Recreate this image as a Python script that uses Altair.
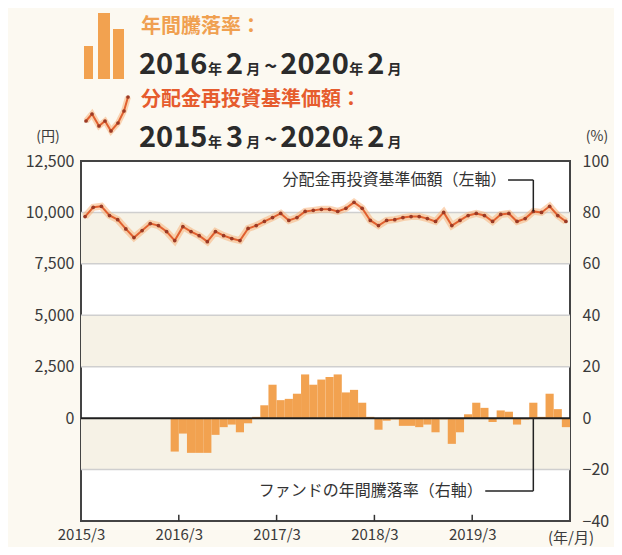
import json
import altair as alt
import pandas as pd

FONT = "Noto Sans CJK JP"

# ---- data ----
nav = [9800, 10250, 10300, 9850, 9650, 9200, 8780, 9120, 9460, 9360, 9070, 8630,
       9310, 9070, 8870, 8580, 9070, 8870, 8730, 8630, 9220, 9360, 9560, 9750,
       9950, 9610, 9750, 10050, 10100, 10150, 10150, 10050, 10200, 10490, 10200, 9610,
       9360, 9610, 9650, 9750, 9800, 9800, 9700, 9560, 10000, 9360, 9610, 9850,
       9950, 9850, 9560, 9900, 9950, 9560, 9700, 10050, 10000, 10300, 9850, 9560]
ret_start_index = 11  # 2016/2
ret = [-13, -6, -13.5, -13.5, -13.5, -6.5, -3.5, -2.5, -5.5, -2, 0.5, 5,
       13, 7, 7.5, 9.5, 17, 13, 15, 16, 17, 10, 11, 6,
       0.5, -4.5, -1, -0.5, -3, -3, -3.5, -2.5, -5.5, -0.5, -10, -5.5,
       1.5, 6, 4, -1.5, 3, 2.5, -2.5, -0.5, 6, 0.5, 9.5, 3.5, -3.5]

x_tick_vals = [0, 12, 24, 36, 48]
x_tick_labels = ["2015/3", "2016/3", "2017/3", "2018/3", "2019/3"]
x_unit_label = "(年/月)"
inner_ticks = [12, 24, 36, 48]
left_ticks = [0, 2500, 5000, 7500, 10000, 12500]
right_ticks = [-40, -20, 0, 20, 40, 60, 80, 100]
band_lo = [7500, 2500, -2500]
band_hi = [10000, 5000, 0]
grid_vals = [-2500, 2500, 5000, 7500, 10000]

nav_label = "分配金再投資基準価額（左軸）"
ret_label = "ファンドの年間騰落率（右軸）"
legend1_title = "年間騰落率："
legend1_range = ["2016", "年", "2", "月", "~", "2020", "年", "2", "月"]
legend2_title = "分配金再投資基準価額："
legend2_range = ["2015", "年", "3", "月", "~", "2020", "年", "2", "月"]

W, H = 489, 360

# ---- tables ----
nav_df = pd.DataFrame({"pos": [i + 0.5 for i in range(len(nav))], "nav": nav})
ret_df = pd.DataFrame({
    "x0": [ret_start_index + i for i in range(len(ret))],
    "x1": [ret_start_index + i + 1 for i in range(len(ret))],
    "ret": ret,
})
band_df = pd.DataFrame({"lo": band_lo, "hi": band_hi, "a": 0, "b": 60})
grid_df = pd.DataFrame({"g": grid_vals, "a": 0, "b": 60})
tick_df = pd.DataFrame({"t": inner_ticks, "y0": -5000, "y1": -4700})

XS = alt.Scale(domain=[0, 60], nice=False, zero=False)
x_axis = alt.Axis(
    values=x_tick_vals,
    labelExpr=f"{json.dumps(x_tick_labels, ensure_ascii=False)}[indexof({json.dumps(x_tick_vals)}, datum.value)]",
    domain=False, ticks=False, grid=False, title=None,
    labelFont=FONT, labelFontSize=15, labelColor="#3a3a3a",
    labelPadding=6, labelFlush=False, labelOverlap=False,
)


def X(f):
    return alt.X(f, type="quantitative", scale=XS, axis=x_axis)


YLS = alt.Scale(domain=[-5000, 12500], nice=False, zero=False)
yl_axis = alt.Axis(orient="left", values=left_ticks, format=",.0f", domain=False, ticks=False,
                   grid=False, title=None, labelFont=FONT, labelFontSize=16,
                   labelColor="#3a3a3a", labelPadding=7)
YRS = alt.Scale(domain=[-40, 100], nice=False, zero=False)
yr_axis = alt.Axis(orient="right", values=right_ticks, format=".0f", domain=False, ticks=False,
                   grid=False, title=None, labelFont=FONT, labelFontSize=16,
                   labelColor="#3a3a3a", labelPadding=12)


def YL(f):
    return alt.Y(f, type="quantitative", scale=YLS, axis=yl_axis)


def YR(f):
    return alt.Y(f, type="quantitative", scale=YRS, axis=yr_axis)


bands = alt.Chart(band_df).mark_rect(color="#f6f2e6").encode(
    x=X("a"), x2="b", y=YL("lo"), y2="hi")
grid = alt.Chart(grid_df).mark_rule(color="#cfcfcf", strokeWidth=1.5).encode(
    x=X("a"), x2="b", y=YL("g"))
xticks = alt.Chart(tick_df).mark_rule(color="#333", strokeWidth=1.5).encode(
    x=X("t"), y=YL("y0"), y2="y1")
glow = alt.Chart(nav_df).mark_line(color="#f7b27a", strokeWidth=7, opacity=0.55).encode(
    x=X("pos"), y=YL("nav"))
line = alt.Chart(nav_df).mark_line(color="#e0602f", strokeWidth=2).encode(
    x=X("pos"), y=YL("nav"))
pts = alt.Chart(nav_df).mark_point(filled=True, color="#9c3a24", size=14, opacity=1).encode(
    x=X("pos"), y=YL("nav"))

# annotation for line (left axis)
nav_anchor = 55
lead_l = pd.DataFrame({"a": [52.4, nav_anchor + 0.5], "b": [nav_anchor + 0.5, nav_anchor + 0.5],
                       "y0": [11576, 11576], "y1": [11576, nav[nav_anchor]]})
lead_l_rule = alt.Chart(lead_l).mark_rule(color="#222", strokeWidth=1.5).encode(
    x=X("a"), x2="b", y=YL("y0"), y2="y1")
nav_text = alt.Chart(pd.DataFrame({"p": [52.2], "v": [11576], "t": [nav_label]})).mark_text(
    align="right", baseline="middle", font=FONT, fontSize=16, color="#333").encode(
    x=X("p"), y=YL("v"), text="t")

left = alt.layer(bands, grid, xticks, glow, line, pts, lead_l_rule, nav_text)

bars = alt.Chart(ret_df).mark_bar(color="#f2a250").encode(
    x=X("x0"), x2="x1", y=YR("ret"), y2=alt.datum(0))
zero = alt.Chart(pd.DataFrame({"a": [0], "b": [60], "z": [0]})).mark_rule(
    color="#1e1e1e", strokeWidth=2).encode(x=X("a"), x2="b", y=YR("z"))
ret_anchor = 55
lead_r = pd.DataFrame({"a": [49.6, ret_anchor + 0.5], "b": [ret_anchor + 0.5, ret_anchor + 0.5],
                       "y0": [-28.3, -28.3], "y1": [-28.3, 0]})
lead_r_rule = alt.Chart(lead_r).mark_rule(color="#222", strokeWidth=1.5).encode(
    x=X("a"), x2="b", y=YR("y0"), y2="y1")
ret_text = alt.Chart(pd.DataFrame({"p": [49.3], "v": [-28.3], "t": [ret_label]})).mark_text(
    align="right", baseline="middle", font=FONT, fontSize=16, color="#333").encode(
    x=X("p"), y=YR("v"), text="t")

right = alt.layer(bars, zero, lead_r_rule, ret_text)

main = alt.layer(left, right).resolve_scale(y="independent")


# ---- legend / header decorations (pixel space) ----
def piece_w(s, size):
    return sum(0.56 * size if c.isdigit() else (0.55 * size if c == "~" else size) for c in s)


def row_pieces(pieces, x0, y0):
    rows = []
    x = x0
    for s in pieces:
        size = 29 if (s.isdigit()) else (22 if s == "~" else 14)
        rows.append({"px": x, "py": y0, "t": s, "s": size})
        x += piece_w(s, size) + 4
    return rows


date_rows = row_pieces(legend1_range, 58, -87) + row_pieces(legend2_range, 58, -14)
date_df = pd.DataFrame(date_rows)
dates = alt.Chart(date_df).mark_text(
    align="left", baseline="alphabetic", font=FONT, fontWeight="bold", color="#2b2b2b").encode(
    x=alt.X("px:Q", scale=None, axis=None), y=alt.Y("py:Q", scale=None, axis=None),
    text="t:N", size=alt.Size("s:Q", scale=None, legend=None))

titles_df = pd.DataFrame({"px": [60, 60], "py": [-128, -55],
                          "t": [legend1_title, legend2_title],
                          "c": ["#f0a050", "#e65c2e"]})
titles = alt.Chart(titles_df).mark_text(
    align="left", baseline="alphabetic", font=FONT, fontWeight="bold", fontSize=20).encode(
    x=alt.X("px:Q", scale=None, axis=None), y=alt.Y("py:Q", scale=None, axis=None),
    text="t:N", color=alt.Color("c:N", scale=None, legend=None))

units_df = pd.DataFrame({"px": [-33, 516, 490], "py": [-20, -20, 382],
                         "t": ["(円)", "(%)", x_unit_label], "s": [14, 14, 15]})
units = alt.Chart(units_df).mark_text(
    align="center", baseline="alphabetic", font=FONT, color="#3a3a3a").encode(
    x=alt.X("px:Q", scale=None, axis=None), y=alt.Y("py:Q", scale=None, axis=None),
    text="t:N", size=alt.Size("s:Q", scale=None, legend=None))

icon_bars = pd.DataFrame({"x0": [3, 17, 32], "x1": [12, 29, 43],
                          "y0": [-115, -148, -132], "y1": [-82, -82, -82]})
ibars = alt.Chart(icon_bars).mark_rect(color="#f2a250").encode(
    x=alt.X("x0:Q", scale=None, axis=None), x2="x1:Q",
    y=alt.Y("y0:Q", scale=None, axis=None), y2="y1:Q")

icon_line = pd.DataFrame({"o": list(range(8)),
                          "px": [5, 11, 18, 24, 30, 37, 43, 47],
                          "py": [-40, -47, -35, -40, -30, -38, -50, -64]})
iglow = alt.Chart(icon_line).mark_line(color="#f7b27a", strokeWidth=6, opacity=0.55).encode(
    x=alt.X("px:Q", scale=None, axis=None), y=alt.Y("py:Q", scale=None, axis=None), order="o:Q")
iline = alt.Chart(icon_line).mark_line(color="#e0602f", strokeWidth=2).encode(
    x=alt.X("px:Q", scale=None, axis=None), y=alt.Y("py:Q", scale=None, axis=None), order="o:Q")
ipts = alt.Chart(icon_line).mark_point(filled=True, color="#9c3a24", size=14, opacity=1).encode(
    x=alt.X("px:Q", scale=None, axis=None), y=alt.Y("py:Q", scale=None, axis=None))

deco = alt.layer(ibars, iglow, iline, ipts, titles, dates, units)

chart = alt.layer(main, deco).properties(
    width=W, height=H,
    autosize=alt.AutoSizeParams(type="none"),
    padding={"left": 73, "top": 153, "right": 44, "bottom": 26},
    background="#fcf9f1",
).configure_view(stroke="#444", strokeWidth=2, fill="white")

chart.save("out.html", embed_options={"renderer": "svg", "actions": False})
